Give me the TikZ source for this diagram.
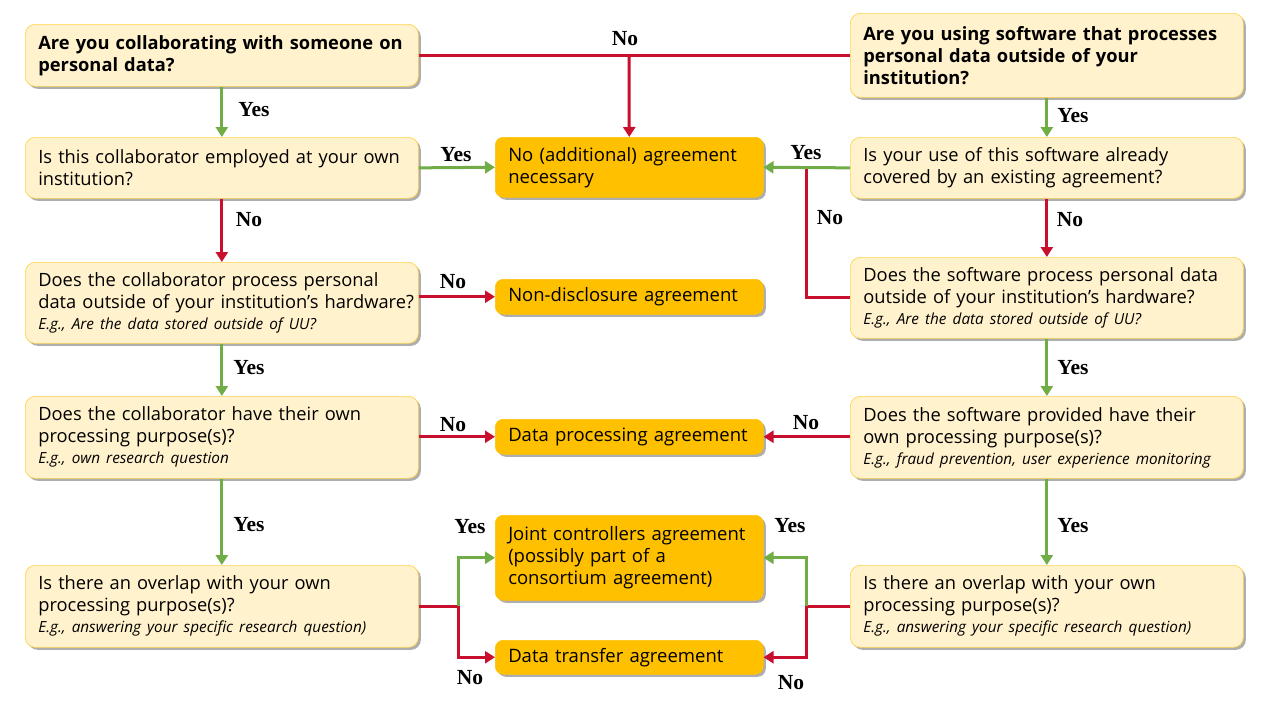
\documentclass[tikz,border=0pt]{standalone}
\usepackage{fontspec}
\setmainfont{Open Sans}
\newfontfamily\lblfont{Liberation Serif}
\usetikzlibrary{arrows.meta,shadows}
\definecolor{cream}{HTML}{FFF2CC}
\definecolor{gold}{HTML}{FFC000}
\definecolor{orng}{HTML}{FFC000}
\definecolor{redc}{HTML}{C8102E}
\definecolor{grnc}{HTML}{70AD47}
\newcommand{\tl}[1]{\mbox{#1}}
\newcommand{\egline}[1]{\\[-1pt]\mbox{\fontsize{15.3}{18}\selectfont\itshape #1}}
\begin{document}
\begin{tikzpicture}[x=1pt,y=-1pt,
  shad/.style={drop shadow={shadow xshift=2.5pt,shadow yshift=-2.5pt,opacity=0.45,fill=black!70}},
  qbox/.style={shad,draw=gold!70,line width=0.7pt,fill=cream,rounded corners=10pt,
    minimum width=393pt,text width=367pt,inner xsep=13pt,inner ysep=3pt,align=left,
    anchor=north west,font=\fontsize{18.3}{22}\selectfont},
  abox/.style={shad,draw=orng,line width=0.5pt,fill=orng,rounded corners=8pt,
    minimum width=268pt,text width=242pt,inner xsep=13pt,inner ysep=3pt,align=left,
    anchor=north west,font=\fontsize{18.5}{22}\selectfont},
  redarr/.style={draw=redc,line width=3pt,-{Triangle[length=10pt,width=12pt]}},
  grnarr/.style={draw=grnc,line width=3pt,-{Triangle[length=10pt,width=12pt]}},
  redln/.style={draw=redc,line width=3pt},
  lbl/.style={font=\lblfont\bfseries\fontsize{21.5}{24}\selectfont,inner sep=0pt}
]
\useasboundingbox[fill=white] (0,0) rectangle (1280,720);

% left column
\node[qbox,minimum height=62pt] (L1) at (25,24) {\bfseries \tl{Are you collaborating with someone on}\\\tl{personal data?}};
\node[qbox,minimum height=61pt] (L2) at (25,137) {\tl{Is this collaborator employed at your own}\\\tl{institution?}};
\node[qbox,minimum height=81pt] (L3) at (25,262) {\tl{Does the collaborator process personal}\\\tl{data outside of your institution’s hardware?}\egline{E.g., Are the data stored outside of UU?}};
\node[qbox,minimum height=82pt] (L4) at (25,396) {\tl{Does the collaborator have their own}\\\tl{processing purpose(s)?}\egline{E.g., own research question}};
\node[qbox,minimum height=82pt] (L5) at (25,565) {\tl{Is there an overlap with your own}\\\tl{processing purpose(s)?}\egline{E.g., answering your specific research question)}};

% right column
\node[qbox,minimum height=84pt] (R1) at (850,13) {\bfseries \tl{Are you using software that processes}\\\tl{personal data outside of your}\\\tl{institution?}};
\node[qbox,minimum height=61pt] (R2) at (850,137) {\tl{Is your use of this software already}\\\tl{covered by an existing agreement?}};
\node[qbox,minimum height=81pt] (R3) at (850,257) {\tl{Does the software process personal data}\\\tl{outside of your institution’s hardware?}\egline{E.g., Are the data stored outside of UU?}};
\node[qbox,minimum height=82pt] (R4) at (850,396) {\tl{Does the software provided have their}\\\tl{own processing purpose(s)?}\egline{E.g., fraud prevention, user experience monitoring}};
\node[qbox,minimum height=82pt] (R5) at (850,565) {\tl{Is there an overlap with your own}\\\tl{processing purpose(s)?}\egline{E.g., answering your specific research question)}};

% middle column
\node[abox,minimum height=60pt] (M1) at (495,137) {\tl{No (additional) agreement}\\\tl{necessary}};
\node[abox,minimum height=35pt] (M2) at (495,279) {\tl{Non-disclosure agreement}};
\node[abox,minimum height=35pt] (M3) at (495,419) {\tl{Data processing agreement}};
\node[abox,minimum height=85pt] (M4) at (495,515) {\tl{Joint controllers agreement}\\\tl{(possibly part of a}\\\tl{consortium agreement)}};
\node[abox,minimum height=34pt] (M5) at (495,640) {\tl{Data transfer agreement}};

\coordinate (jtop) at (629,55);
\coordinate (jr3) at (806,167);
\coordinate (jl) at (458,606);
\coordinate (jr) at (806,606);

% connectors
\draw[redln] (L1.east) -- (R1.west);
\draw[redarr] (jtop) -- (M1.north);
\draw[grnarr] (L1.south) -- (L2.north);
\draw[grnarr] (L2.east) -- (M1.west);
\draw[redarr] (L2.south) -- (L3.north);
\draw[redarr] (M2.west -| L3.east) -- (M2.west);
\draw[grnarr] (L3.south) -- (L4.north);
\draw[redarr] (M3.west -| L4.east) -- (M3.west);
\draw[grnarr] (L4.south) -- (L5.north);
\draw[redln] (L5.east |- jl) -- (jl);
\draw[grnarr] (jl) |- (M4.west);
\draw[redarr] (jl) |- (M5.west);

\draw[grnarr] (R1.south) -- (R2.north);
\draw[redln] (R3.west) -| (jr3);
\draw[grnarr] (R2.west) -- (M1.east);
\draw[redarr] (R2.south) -- (R3.north);
\draw[grnarr] (R3.south) -- (R4.north);
\draw[redarr] (M3.east -| R4.west) -- (M3.east);
\draw[grnarr] (R4.south) -- (R5.north);
\draw[redln] (R5.west |- jr) -- (jr);
\draw[grnarr] (jr) |- (M4.east);
\draw[redarr] (jr) |- (M5.east);

% labels
\node[lbl] (n1) at (625,39) {No};
\node[lbl] (y1) at (254,110) {Yes};
\node[lbl] (y2) at (456,155) {Yes};
\node[lbl] (n2) at (249,220) {No};
\node[lbl] (n3) at (453,282) {No};
\node[lbl] (y3) at (249,368) {Yes};
\node[lbl] (n4) at (453,425) {No};
\node[lbl] (y4) at (249,525) {Yes};
\node[lbl] (y5) at (470,527) {Yes};
\node[lbl] (n5) at (470,678) {No};
\node[lbl] (y6) at (1073,116) {Yes};
\node[lbl] (y7) at (806,153) {Yes};
\node[lbl] (n6) at (830,218) {No};
\node[lbl] (n7) at (1070,220) {No};
\node[lbl] (y8) at (1073,368) {Yes};
\node[lbl] (n8) at (806,423) {No};
\node[lbl] (y9) at (1073,526) {Yes};
\node[lbl] (y10) at (790,526) {Yes};
\node[lbl] (n9) at (791,683) {No};
\end{tikzpicture}
\end{document}
